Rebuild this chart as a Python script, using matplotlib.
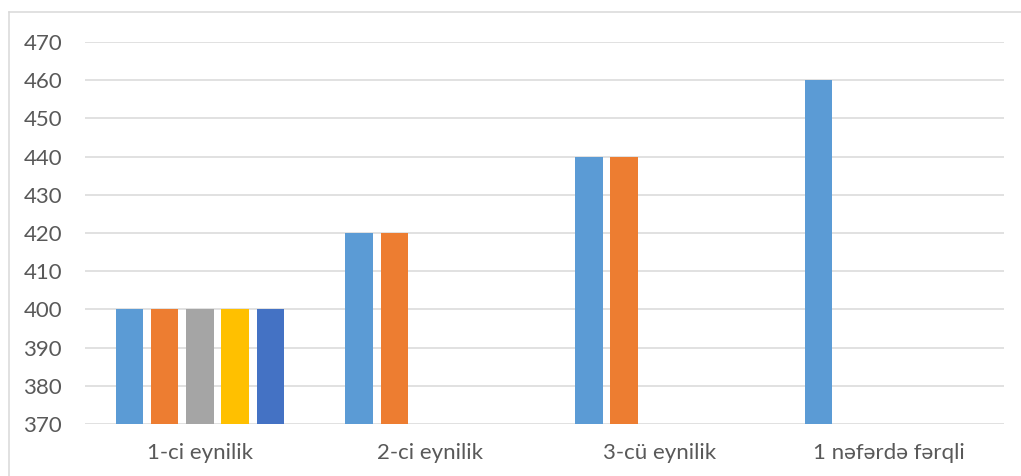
import numpy as np
import matplotlib
matplotlib.use("Agg")
import matplotlib.pyplot as plt
from matplotlib.lines import Line2D

categories = ["1-ci eynilik", "2-ci eynilik", "3-cü eynilik", "1 nəfərdə fərqli"]
series_1 = [400, 420, 440, 460]
series_2 = [400, 420, 440, np.nan]
series_3 = [400, np.nan, np.nan, np.nan]
series_4 = [400, np.nan, np.nan, np.nan]
series_5 = [400, np.nan, np.nan, np.nan]
y_ticks = [370, 380, 390, 400, 410, 420, 430, 440, 450, 460, 470]

all_series = [series_1, series_2, series_3, series_4, series_5]
colors = ["#5B9BD5", "#ED7D31", "#A5A5A5", "#FFC000", "#4472C4"]

plt.rcParams["font.family"] = ["Lato", "DejaVu Sans"]

fig = plt.figure(figsize=(10.21, 4.76), dpi=100)
ax = fig.add_axes([85 / 1021, 1 - 424 / 476, 919 / 1021, 382 / 476])

x = np.arange(len(categories))
pitch = 0.1536
width = 0.120
for j, (vals, c) in enumerate(zip(all_series, colors)):
    vals = np.asarray(vals, dtype=float)
    mask = ~np.isnan(vals)
    ax.bar(x[mask] + (j - 2) * pitch, vals[mask] - 370, bottom=370,
           width=width, color=c, zorder=3)

ax.set_xlim(-0.5, len(categories) - 0.5)
ax.set_ylim(370, 470)
ax.set_yticks(y_ticks)
ax.set_xticks(x)
ax.set_xticklabels(categories)
ax.yaxis.grid(True, color="#D9D9D9", linewidth=1.1, zorder=0)
ax.set_axisbelow(True)
for s in ax.spines.values():
    s.set_visible(False)
ax.tick_params(axis="both", length=0, colors="#595959", labelsize=16)
ax.tick_params(axis="y", pad=16.5)
ax.tick_params(axis="x", pad=13.5)

# outer chart frame (top and left edges)
fig.add_artist(Line2D([8.5 / 1021, 1.0], [1 - 12 / 476, 1 - 12 / 476],
                      transform=fig.transFigure, color="#D9D9D9", linewidth=1.1))
fig.add_artist(Line2D([8.5 / 1021, 8.5 / 1021], [0.0, 1 - 12 / 476],
                      transform=fig.transFigure, color="#D9D9D9", linewidth=1.1))

fig.savefig("out.png", dpi=100)
